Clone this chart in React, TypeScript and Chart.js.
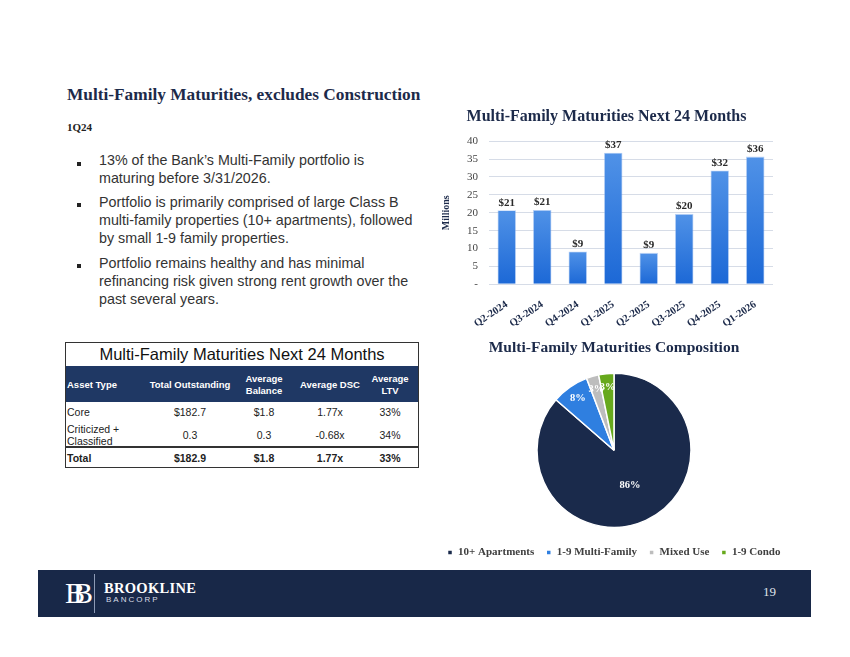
import React, { useEffect, useRef } from "react";
import { Chart, registerables } from "chart.js";

Chart.register(...registerables);

// ---------- DATA ----------
const barCategories = ["Q2-2024", "Q3-2024", "Q4-2024", "Q1-2025", "Q2-2025", "Q3-2025", "Q4-2025", "Q1-2026"];
const barValues = [20.7, 20.8, 9.2, 36.8, 8.8, 19.7, 31.8, 35.7];
const barValueLabels = ["$21", "$21", "$9", "$37", "$9", "$20", "$32", "$36"];
const yTickValues = [0, 5, 10, 15, 20, 25, 30, 35, 40];

const pieCategories = ["10+ Apartments", "1-9 Multi-Family", "Mixed Use", "1-9 Condo"];
const pieValues = [86.4, 7.8, 2.6, 3.2];
const pieValueLabels = ["86%", "8%", "3%", "3%"];
const pieColors = ["#1a2a4b", "#2f7fe0", "#bdbdbd", "#67a91c"];

const tableHeaders = ["Asset Type", "Total Outstanding", "Average\nBalance", "Average DSC", "Average\nLTV"];
const tableRowCore = ["Core", "$182.7", "$1.8", "1.77x", "33%"];
const tableRowCriticized = ["Criticized +\nClassified", "0.3", "0.3", "-0.68x", "34%"];
const tableRowTotal = ["Total", "$182.9", "$1.8", "1.77x", "33%"];

const SERIF = "'Liberation Serif', 'DejaVu Serif', serif";
const SANS = "'Liberation Sans', Arial, sans-serif";

function BarChart() {
  const ref = useRef<HTMLCanvasElement | null>(null);
  useEffect(() => {
    if (!ref.current) return;
    const valueLabelPlugin = {
      id: "valueLabels",
      afterDatasetsDraw(chart: any) {
        const ctx = chart.ctx;
        const meta = chart.getDatasetMeta(0);
        ctx.save();
        ctx.font = `bold 11px ${SERIF}`;
        ctx.fillStyle = "#2a2a2a";
        ctx.textAlign = "center";
        ctx.textBaseline = "bottom";
        meta.data.forEach((el: any, i: number) => {
          ctx.fillText(barValueLabels[i], el.x, el.y - 2);
        });
        ctx.restore();
      },
    };
    const chart = new Chart(ref.current, {
      type: "bar",
      data: {
        labels: barCategories,
        datasets: [
          {
            data: barValues,
            barPercentage: 0.52,
            categoryPercentage: 1,
            backgroundColor: (c: any) => {
              const ch = c.chart;
              if (!ch.chartArea || c.type !== "data") return "#2a78e0";
              const ys = ch.scales.y;
              const top = ys.getPixelForValue(c.raw);
              const bottom = ys.getPixelForValue(0);
              const g = ch.ctx.createLinearGradient(0, top, 0, bottom);
              g.addColorStop(0, "#5092e7");
              g.addColorStop(1, "#1c68d6");
              return g;
            },
            borderColor: "rgba(140,180,240,0.6)",
            borderWidth: 0.8,
          },
        ],
      },
      options: {
        animation: false,
        responsive: false,
        maintainAspectRatio: false,
        layout: { padding: { left: 0, right: 7, top: 0, bottom: 0 } },
        plugins: {
          legend: { display: false },
          tooltip: { enabled: false },
          title: {
            display: true,
            text: "Multi-Family Maturities Next 24 Months",
            color: "#1c2a4a",
            font: { family: SERIF, size: 16, weight: "bold" },
            padding: { top: 7, bottom: 15 },
          },
        },
        scales: {
          x: {
            grid: { display: false },
            border: { display: false },
            ticks: {
              maxRotation: 34,
              minRotation: 34,
              autoSkip: false,
              color: "#1c2a4a",
              font: { family: SERIF, size: 10.5, weight: "bold" },
              padding: 6,
            },
          },
          y: {
            min: 0,
            max: 40,
            afterBuildTicks: (s: any) => {
              s.ticks = yTickValues.map((v) => ({ value: v }));
            },
            ticks: {
              autoSkip: false,
              color: "#444",
              font: { family: SERIF, size: 11 },
              padding: 11,
              callback: (v: any) => (v === 0 ? "-" : String(v)),
            },
            grid: { color: "#d6dce7", drawTicks: false },
            border: { display: false },
            title: {
              display: true,
              text: "Millions",
              color: "#1c2a4a",
              font: { family: SERIF, size: 10, weight: "bold" },
              padding: { top: 0, bottom: 4 },
            },
          },
        },
      },
      plugins: [valueLabelPlugin],
    } as any);
    return () => chart.destroy();
  }, []);
  return (
    <canvas
      ref={ref}
      width={340}
      height={236}
      style={{ position: "absolute", left: 440, top: 100, width: 340, height: 236 }}
    />
  );
}

function PieChart() {
  const ref = useRef<HTMLCanvasElement | null>(null);
  useEffect(() => {
    if (!ref.current) return;
    const pieLabelPlugin = {
      id: "pieLabels",
      afterDatasetsDraw(chart: any) {
        const ctx = chart.ctx;
        const meta = chart.getDatasetMeta(0);
        ctx.save();
        ctx.font = `bold 10.5px ${SERIF}`;
        ctx.fillStyle = "#ffffff";
        ctx.textAlign = "center";
        ctx.textBaseline = "middle";
        meta.data.forEach((el: any, i: number) => {
          const p = el.getProps(["x", "y", "startAngle", "endAngle", "outerRadius"], true);
          const mid = (p.startAngle + p.endAngle) / 2;
          const f = p.endAngle - p.startAngle > Math.PI ? 0.5 : 0.82;
          const r = p.outerRadius * f;
          ctx.fillText(pieValueLabels[i], p.x + Math.cos(mid) * r, p.y + Math.sin(mid) * r);
        });
        ctx.restore();
      },
    };
    const chart = new Chart(ref.current, {
      type: "pie",
      data: {
        labels: pieCategories,
        datasets: [
          {
            data: pieValues,
            backgroundColor: pieColors,
            borderColor: "#ffffff",
            borderWidth: 1.5,
            radius: 77,
          },
        ],
      },
      options: {
        animation: false,
        responsive: false,
        maintainAspectRatio: false,
        plugins: {
          tooltip: { enabled: false },
          title: {
            display: true,
            text: "Multi-Family Maturities Composition",
            color: "#1c2a4a",
            font: { family: SERIF, size: 15.5, weight: "bold" },
            padding: { top: 4, bottom: 8 },
          },
          legend: {
            position: "bottom",
            labels: {
              boxWidth: 5,
              boxHeight: 5,
              padding: 12,
              color: "#404040",
              font: { family: SERIF, size: 11, weight: "bold" },
            },
          },
        },
      },
      plugins: [pieLabelPlugin],
    } as any);
    return () => chart.destroy();
  }, []);
  return (
    <canvas
      ref={ref}
      width={370}
      height={233}
      style={{ position: "absolute", left: 429, top: 335, width: 370, height: 233 }}
    />
  );
}

function Cell({ text, cx, cy, bold, color, size, align }: any) {
  const lines = String(text).split("\n");
  const lh = 12;
  const h = lines.length * lh;
  const style: any = {
    position: "absolute",
    top: cy - h / 2,
    lineHeight: lh + "px",
    fontFamily: SANS,
    fontSize: size,
    fontWeight: bold ? "bold" : "normal",
    color,
    whiteSpace: "nowrap",
  };
  if (align === "left") {
    style.left = cx;
  } else {
    style.left = cx - 60;
    style.width = 120;
    style.textAlign = "center";
  }
  return (
    <div style={style}>
      {lines.map((l, i) => (
        <div key={i}>{l}</div>
      ))}
    </div>
  );
}

function DataTable() {
  const colX = [1, 124, 198, 264, 324];
  const row = (r: string[], cy: number, bold: boolean) =>
    r.map((t, i) => (
      <Cell
        key={i + "-" + cy}
        text={t}
        cx={colX[i]}
        cy={cy}
        bold={bold}
        color="#222"
        size={10.5}
        align={i === 0 ? "left" : "center"}
      />
    ));
  return (
    <div
      style={{
        position: "absolute",
        left: 66,
        top: 343,
        width: 352,
        height: 124,
        boxSizing: "border-box",
        outline: "1.5px solid #333",
      }}
    >
      <div
        style={{
          position: "absolute",
          left: 0,
          top: 0,
          width: 352,
          height: 23,
          lineHeight: "23px",
          textAlign: "center",
          fontFamily: SANS,
          fontSize: 16.5,
          color: "#111",
        }}
      >
        Multi-Family Maturities Next 24 Months
      </div>
      <div style={{ position: "absolute", left: 0, top: 23, width: 352, height: 36, background: "#1f3864" }} />
      {tableHeaders.map((t, i) => (
        <Cell
          key={"h" + i}
          text={t}
          cx={colX[i]}
          cy={41.5}
          bold
          color="#fff"
          size={9.5}
          align={i === 0 ? "left" : "center"}
        />
      ))}
      {row(tableRowCore, 69, false)}
      {row(tableRowCriticized, 92, false)}
      <div style={{ position: "absolute", left: 0, top: 102.5, width: 352, height: 2, background: "#333" }} />
      {row(tableRowTotal, 115, true)}
    </div>
  );
}

const bulletStyle: any = {
  position: "absolute",
  left: 99,
  fontFamily: SANS,
  fontSize: 14.3,
  lineHeight: "18.3px",
  color: "#333",
  whiteSpace: "nowrap",
};
const sq = (top: number) => (
  <div style={{ position: "absolute", left: 77, top, width: 4, height: 4, background: "#222" }} />
);

export default function App() {
  return (
    <div
      style={{
        position: "absolute",
        left: 0,
        top: 0,
        width: 850,
        height: 657,
        background: "#fff",
        overflow: "hidden",
      }}
    >
      <div
        style={{
          position: "absolute",
          left: 67,
          top: 84,
          lineHeight: "22px",
          fontFamily: SERIF,
          fontSize: 17.3,
          fontWeight: "bold",
          color: "#1c2a4a",
          whiteSpace: "nowrap",
        }}
      >
        Multi-Family Maturities, excludes Construction
      </div>
      <div
        style={{
          position: "absolute",
          left: 67,
          top: 120,
          lineHeight: "14px",
          fontFamily: SERIF,
          fontSize: 11,
          fontWeight: "bold",
          color: "#222",
        }}
      >
        1Q24
      </div>

      {sq(161.5)}
      <div style={{ ...bulletStyle, top: 151 }}>
        13% of the Bank’s Multi-Family portfolio is
        <br />
        maturing before 3/31/2026.
      </div>
      {sq(203)}
      <div style={{ ...bulletStyle, top: 192.6 }}>
        Portfolio is primarily comprised of large Class B
        <br />
        multi-family properties (10+ apartments), followed
        <br />
        by small 1-9 family properties.
      </div>
      {sq(264)}
      <div style={{ ...bulletStyle, top: 253.6 }}>
        Portfolio remains healthy and has minimal
        <br />
        refinancing risk given strong rent growth over the
        <br />
        past several years.
      </div>

      <DataTable />
      <BarChart />
      <PieChart />

      <div style={{ position: "absolute", left: 38, top: 570, width: 773, height: 47, background: "#182848" }}>
        <div
          style={{
            position: "absolute",
            left: 27,
            top: 8,
            fontFamily: SERIF,
            fontSize: 30,
            lineHeight: "30px",
            color: "#fff",
            letterSpacing: -12,
          }}
        >
          BB
        </div>
        <div style={{ position: "absolute", left: 56, top: 4, width: 1, height: 39, background: "#8d9ab5" }} />
        <div
          style={{
            position: "absolute",
            left: 66,
            top: 9,
            fontFamily: SERIF,
            fontSize: 14.5,
            fontWeight: "bold",
            lineHeight: "18px",
            color: "#fff",
            letterSpacing: 0.3,
          }}
        >
          BROOKLINE
        </div>
        <div
          style={{
            position: "absolute",
            left: 68,
            top: 25,
            fontFamily: SANS,
            fontSize: 8,
            lineHeight: "10px",
            color: "#d9dde7",
            letterSpacing: 2,
          }}
        >
          BANCORP
        </div>
        <div
          style={{
            position: "absolute",
            left: 725,
            top: 14,
            fontFamily: SERIF,
            fontSize: 13,
            lineHeight: "16px",
            color: "#dfe3ea",
          }}
        >
          19
        </div>
      </div>
    </div>
  );
}
